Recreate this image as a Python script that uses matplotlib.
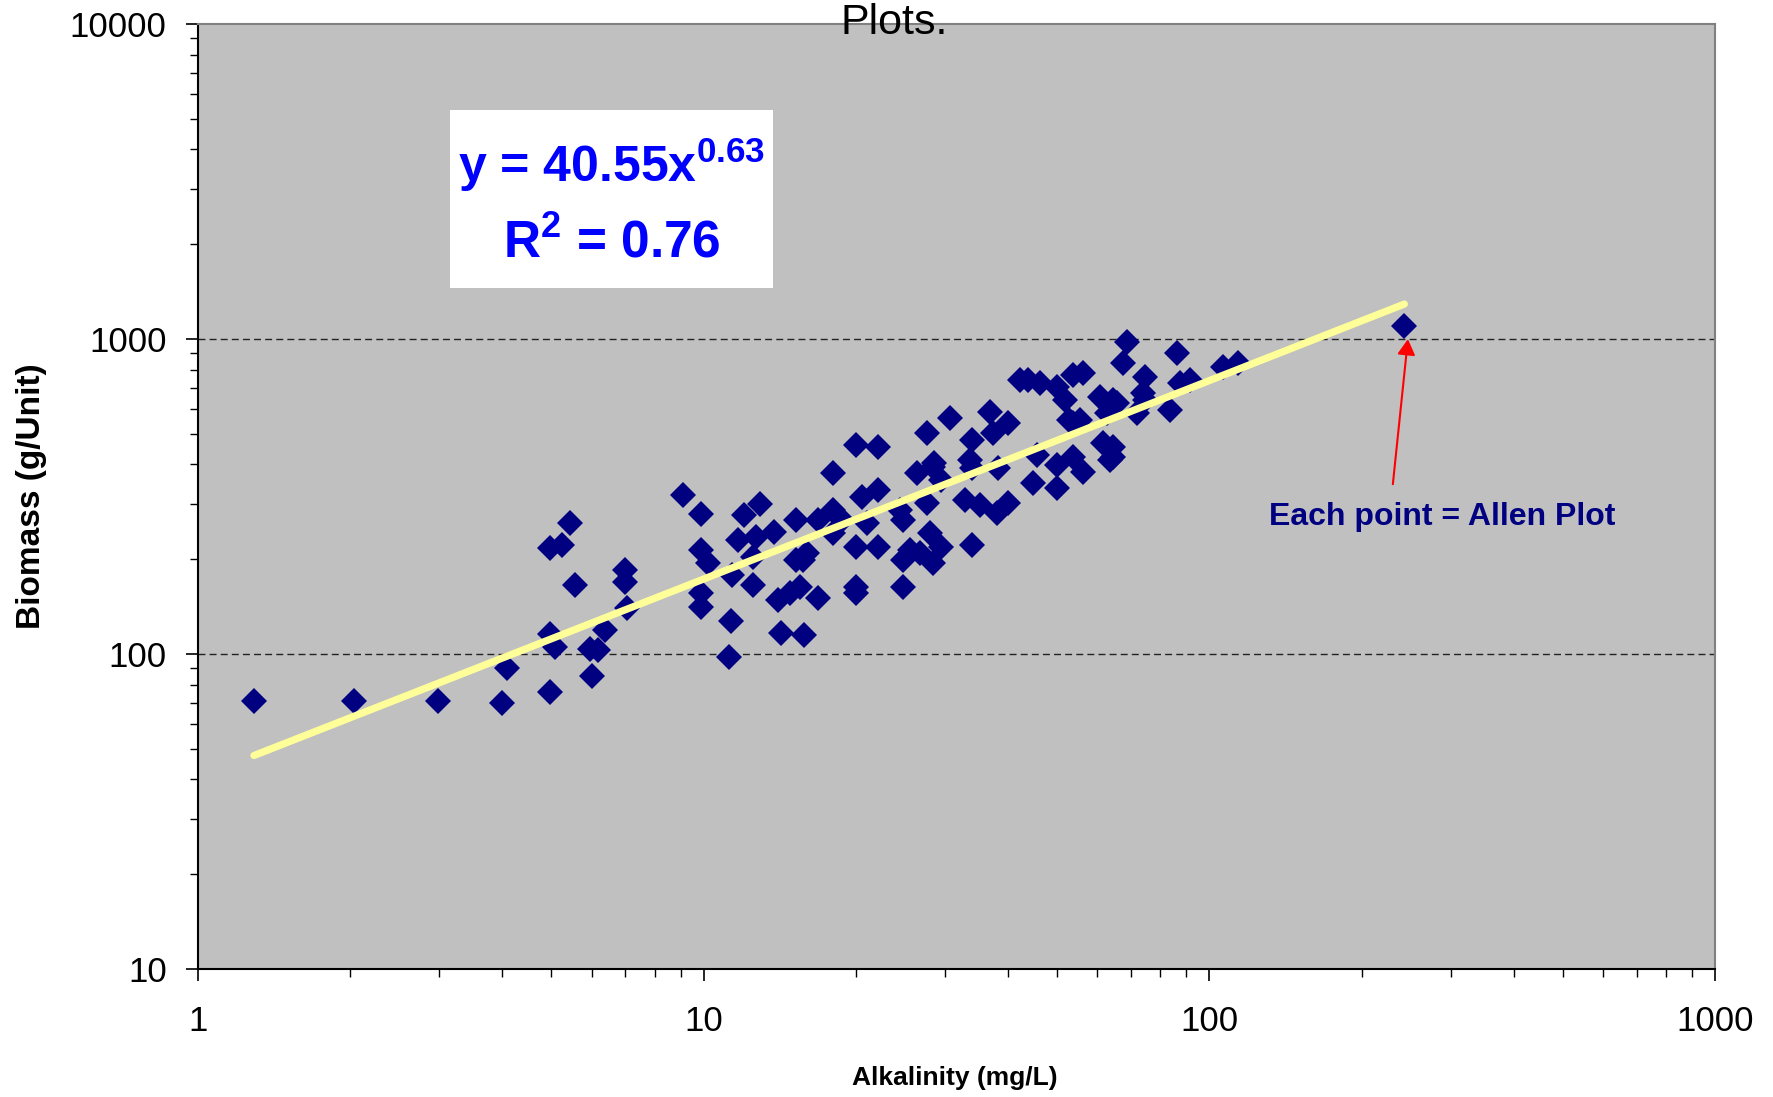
import numpy as np
import matplotlib
matplotlib.use('Agg')
import matplotlib.pyplot as plt
from matplotlib.patches import Rectangle

plt.rcParams['font.family'] = ['Liberation Sans', 'DejaVu Sans']
plt.rcParams['mathtext.fontset'] = 'custom'
plt.rcParams['mathtext.rm'] = 'Liberation Sans:bold'
plt.rcParams['mathtext.bf'] = 'Liberation Sans:bold'
plt.rcParams['mathtext.it'] = 'Liberation Sans:bold'

# ------------------------------------
#   data
# ------------------------------------
alkalinity = [
    1.29, 2.03, 2.98, 3.99, 4.08, 4.97, 4.97, 5.08, 6.01, 5.96, 6.18, 6.38,
    7.05, 6.99, 6.99, 5.57, 4.97, 5.25, 5.44,
    9.1, 9.9, 9.9, 10.2, 9.9, 9.9, 11.3, 11.2, 12.0, 12.9, 11.7, 12.7, 13.8,
    12.5, 11.4, 12.5, 14.0, 14.8, 14.2, 15.8, 15.2, 15.2, 15.7, 16.0, 16.8,
    18.0, 18.0, 16.8, 15.5, 20.0, 22.1, 18.0, 20.6, 22.1, 20.0, 22.1, 20.0,
    20.0, 21.0, 24.8, 24.8, 26.8, 28.4, 24.8, 26.4, 27.6, 28.4, 28.0, 24.4,
    18.8,
    30.7, 36.8, 40.0, 33.9, 37.3, 33.6, 28.5, 29.5, 33.9, 38.2, 45.6, 44.8,
    49.9, 49.9, 53.7, 56.2, 32.9, 35.2, 38.0, 40.0, 27.6, 29.5, 25.6, 33.9,
    53.7, 60.7, 65.6, 73.9, 61.6, 64.4,
    68.7, 67.4, 86.2, 74.6, 87.4, 91.5, 106.3, 113.8, 64.4, 62.7, 74.6, 71.9,
    83.5, 56.2, 64.4, 63.5, 55.5, 42.2, 43.7, 46.3, 53.7, 49.9, 51.8, 52.7,
    243.0,
]
biomass = [
    71, 71, 71, 70, 90, 76, 116, 105, 85, 104, 103, 119,
    140, 185, 169, 165, 217, 222, 260,
    319, 278, 214, 194, 156, 141, 127, 98, 276, 299, 230, 235, 244,
    203, 178, 165, 148, 156, 117, 115, 266, 199, 199, 209, 266,
    286, 242, 151, 163, 460, 454, 375, 315, 331, 219, 219, 163,
    156, 260, 163, 199, 209, 194, 266, 375, 502, 392, 242, 286,
    266,
    561, 586, 541, 477, 502, 413, 403, 357, 389, 389, 428, 349,
    398, 336, 421, 378, 308, 297, 280, 301, 301, 218, 214, 222,
    541, 654, 626, 673, 467, 421,
    977, 838, 901, 756, 724, 740, 814, 838, 639, 581, 639, 581,
    594, 779, 454, 413, 553, 740, 740, 724, 766, 702, 639, 553,
    1100,
]

# power trendline from the chart
coef_a = 40.55
coef_b = 0.63
r_squared = 0.76

x_ticks = [1, 10, 100, 1000]
x_ticklabels = ['1', '10', '100', '1000']
y_ticks = [10, 100, 1000, 10000]
y_ticklabels = ['10', '100', '1000', '10000']


fig = plt.figure(figsize=(17.73, 10.97), dpi=100)
ax = fig.add_axes([0.1117, 0.1167, 0.8556, 0.8614])
ax.set_facecolor('#C0C0C0')

ax.set_xscale('log')
ax.set_yscale('log')
ax.set_xlim(1, 1000)
ax.set_ylim(10, 10000)

# dashed gridlines at the inner decades
for yv in y_ticks[1:-1]:
    ax.axhline(yv, color='#222222', lw=1.0, dashes=(5, 3), zorder=1)

ax.plot(alkalinity, biomass, ls='none', marker='D', markersize=13,
        color='#000080', markeredgewidth=0, zorder=3)

xs = np.sort(np.array(alkalinity))
ax.plot(xs, coef_a * xs ** coef_b, color='#FFFF99', lw=5.2,
        solid_capstyle='round', zorder=4)

ax.set_xticks(x_ticks)
ax.set_xticklabels(x_ticklabels)
ax.set_yticks(y_ticks)
ax.set_yticklabels(y_ticklabels)
ax.tick_params(axis='both', which='major', labelsize=25, length=8.6,
               width=1.2, direction='out')
ax.tick_params(axis='both', which='minor', length=5.8, width=1.0,
               direction='out')
ax.tick_params(axis='x', which='major', pad=17)
ax.tick_params(axis='y', which='major', pad=14)
ax.xaxis.set_minor_formatter(matplotlib.ticker.NullFormatter())
ax.yaxis.set_minor_formatter(matplotlib.ticker.NullFormatter())

for side in ['left', 'bottom']:
    ax.spines[side].set_color('black')
    ax.spines[side].set_linewidth(1.5)
for side in ['top', 'right']:
    ax.spines[side].set_color('#808080')
    ax.spines[side].set_linewidth(1.5)

# equation box
ax.add_patch(Rectangle((0.166, 0.7206), 0.213, 0.1884, transform=ax.transAxes,
                       facecolor='white', edgecolor='none', zorder=5))
ax.text(0.2729, 0.8328, 'y = %.2fx$^{%.2f}$' % (coef_a, coef_b),
        transform=ax.transAxes, ha='center', va='baseline', fontsize=36,
        fontweight='bold', color='#0000FF', zorder=6)
ax.text(0.2729, 0.7534, 'R$^{2}$ = %.2f' % r_squared,
        transform=ax.transAxes, ha='center', va='baseline', fontsize=37,
        fontweight='bold', color='#0000FF', zorder=6)

# note + arrow to the last point
ax.text(0.820, 0.4698, 'Each point = Allen Plot', transform=ax.transAxes,
        ha='center', va='baseline', fontsize=23, fontweight='bold',
        color='#000080', zorder=6)
ax.annotate('', xy=(247, 999), xytext=(230.6, 346),
            arrowprops=dict(arrowstyle='-|>,head_length=0.35,head_width=0.2',
                            color='red', lw=1.5, mutation_scale=27,
                            shrinkA=0, shrinkB=0), zorder=6)

fig.text(32 / 1773, 1 - 496 / 1097, 'Biomass (g/Unit)', rotation=90,
         ha='center', va='center', fontsize=24, fontweight='bold')
fig.text(955 / 1773, 1 - 1078 / 1097, 'Alkalinity (mg/L)', ha='center',
         va='center', fontsize=19, fontweight='bold')
fig.text(894 / 1773, 1 - 34 / 1097, 'Plots.', ha='center', va='baseline',
         fontsize=31)

fig.savefig('out.png', dpi=100)
